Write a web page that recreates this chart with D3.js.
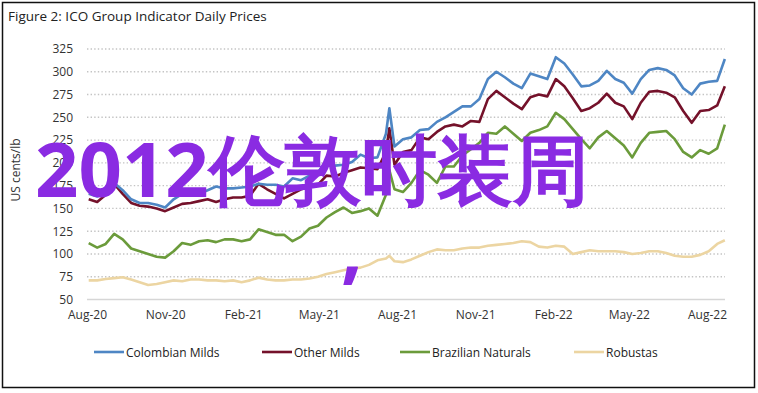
<!DOCTYPE html>
<html><head><meta charset="utf-8">
<script src="https://cdn.jsdelivr.net/npm/d3@7/dist/d3.min.js"></script>
<style>
html,body{margin:0;padding:0;background:#fff;}
svg{display:block;}
text{font-family:"Open Sans","Noto Sans",sans-serif;}
</style></head>
<body>
<svg id="chart" width="758" height="393"></svg>
<script>
const dates = ["2020-08-03","2020-08-13","2020-08-23","2020-09-02","2020-09-12","2020-09-22","2020-10-02","2020-10-12","2020-10-22","2020-11-01",
"2020-11-11","2020-11-21","2020-12-01","2020-12-11","2020-12-21","2020-12-31","2021-01-10","2021-01-20","2021-01-30","2021-02-09",
"2021-02-19","2021-03-01","2021-03-11","2021-03-21","2021-03-31","2021-04-10","2021-04-20","2021-04-30","2021-05-10","2021-05-20",
"2021-05-30","2021-06-09","2021-06-19","2021-06-29","2021-07-09","2021-07-19","2021-07-23","2021-07-29","2021-08-08","2021-08-18","2021-08-28",
"2021-09-07","2021-09-17","2021-09-27","2021-10-07","2021-10-17","2021-10-27","2021-11-06","2021-11-16","2021-11-26","2021-12-06",
"2021-12-16","2021-12-26","2022-01-05","2022-01-15","2022-01-25","2022-02-04","2022-02-14","2022-02-24","2022-03-06","2022-03-16",
"2022-03-26","2022-04-05","2022-04-15","2022-04-25","2022-05-05","2022-05-15","2022-05-25","2022-06-04","2022-06-14","2022-06-24",
"2022-07-04","2022-07-14","2022-07-24","2022-08-03","2022-08-13","2022-08-22"];

const colombianMilds = [166,163,168,178,170,160,156,156,154,151,
160,166,164,166,170,174,172,172,173,174,
177,176,176,174,183,181,186,190,202,197,
198,201,209,205,206,232,260,218,226,228,236,
237,245,250,256,262,262,270,292,300,294,
287,282,298,295,292,316,309,297,284,285,
290,301,292,288,276,292,302,304,302,296,
282,275,287,289,290,314];

const otherMilds = [160,157,165,177,166,156,153,152,150,147,
151,155,156,158,160,157,160,162,162,164,
177,171,166,161,166,171,173,176,186,185,
189,192,195,194,193,212,238,198,212,214,228,
226,234,240,242,240,246,245,270,279,272,
265,259,272,275,273,292,284,271,257,260,
266,276,266,262,248,266,278,279,277,272,
257,244,257,258,263,284];

const brazilianNaturals = [112,107,111,122,116,106,103,100,97,96,
103,112,110,114,115,113,116,116,114,116,
127,124,121,121,114,119,128,131,140,146,
151,145,147,150,142,165,192,171,168,178,192,
187,178,196,196,208,215,222,233,232,240,
232,224,233,236,240,255,248,237,226,216,
228,235,227,219,206,222,233,234,235,226,
212,206,214,210,216,242];

const robustas = [71,71,72.5,73.5,74.5,72,69,66,67,69,
71,70,72,72,71,71,70,71,69,71,
74,72,71,71,72,72,73,75,78,80,
82,84,85,88,93,95,98,92,91,94,98,
102,105,104,104,106,107,107,109,110,111,
112,114,113,108,107,109,108,100,102,104,
103,103,103,102,100,101,103,103,101,98,
97,97,99,103,111,115];

const seriesNames = ["Colombian Milds","Other Milds","Brazilian Naturals","Robustas"];
const seriesColors = ["#4e86c4","#74112a","#6b9b3b","#ecd5a2"];
const yTicks = [50,75,100,125,150,175,200,225,250,275,300,325];
const xTickDates = ["2020-08-01","2020-11-01","2021-02-01","2021-05-01","2021-08-01","2021-11-01","2022-02-01","2022-05-01","2022-08-01"];
const xTickLabels = ["Aug-20","Nov-20","Feb-21","May-21","Aug-21","Nov-21","Feb-22","May-22","Aug-22"];
const titleText = "Figure 2: ICO Group Indicator Daily Prices";
const yAxisTitle = "US cents/lb";
const overlayText = "2012伦敦时装周";

const parse = d3.timeParse("%Y-%m-%d");
const svg = d3.select("#chart");

const x = d3.scaleTime().domain([parse("2020-08-01"), parse("2022-08-01")]).range([87, 707]);
const y = d3.scaleLinear().domain([50, 325]).range([299.5, 49]);

// frame
svg.append("rect").attr("x",2.5).attr("y",2.5).attr("width",752).attr("height",385)
  .attr("fill","#fff").attr("stroke","#111").attr("stroke-width",1.5);

// title
svg.append("text").attr("x",8).attr("y",21).attr("font-size",13.5).attr("fill","#222").text(titleText);

// gridlines
svg.append("g").selectAll("line").data(yTicks.filter(d=>d>50)).join("line")
  .attr("x1",87).attr("x2",725).attr("y1",d=>y(d)).attr("y2",d=>y(d))
  .attr("stroke","#c4c4c4").attr("stroke-width",1.4).attr("stroke-dasharray","1.4,2.2");
svg.append("line").attr("x1",87).attr("x2",725).attr("y1",y(50)).attr("y2",y(50))
  .attr("stroke","#d6d6d6").attr("stroke-width",1.5);

// y axis
const yAxis = d3.axisLeft(y).tickValues(yTicks).tickSize(0).tickPadding(0);
const gy = svg.append("g").attr("transform","translate(73,0)").call(yAxis);
gy.select(".domain").remove();
gy.selectAll("text").attr("font-family","Open Sans, sans-serif").attr("font-size",12).attr("fill","#333");

// x axis
const xAxis = d3.axisBottom(x).tickValues(xTickDates.map(parse)).tickSize(0).tickPadding(0)
  .tickFormat((d,i)=>xTickLabels[i]);
const gx = svg.append("g").attr("transform","translate(0,310)").call(xAxis);
gx.select(".domain").remove();
gx.selectAll("text").attr("font-family","Open Sans, sans-serif").attr("font-size",12).attr("fill","#333");

// y title
svg.append("text").attr("transform","translate(20,170) rotate(-90)").attr("text-anchor","middle")
  .attr("font-size",12).attr("fill","#333").text(yAxisTitle);

// lines
const allSeries = [colombianMilds, otherMilds, brazilianNaturals, robustas];
const line = d3.line().x((d,i)=>x(parse(dates[i]))).y(d=>y(d));
const drawOrder = [3,2,1,0];
drawOrder.forEach(k=>{
  svg.append("path").datum(allSeries[k]).attr("d",line).attr("fill","none")
    .attr("stroke",seriesColors[k]).attr("stroke-width",2.6).attr("stroke-linejoin","round");
});

// legend
const legendX = [94, 262, 400, 574];
const lg = svg.append("g");
seriesNames.forEach((n,i)=>{
  lg.append("line").attr("x1",legendX[i]).attr("x2",legendX[i]+30).attr("y1",352).attr("y2",352)
    .attr("stroke",seriesColors[i]).attr("stroke-width",2.6);
  lg.append("text").attr("x",legendX[i]+32).attr("y",356.5).attr("font-size",12).attr("fill","#222").text(n);
});

// overlay watermark text
svg.append("text").attr("x",35).attr("y",197).attr("font-family","Noto Sans CJK SC, sans-serif")
  .attr("font-weight","bold").attr("font-size",76).attr("fill","#8a2be2").text(overlayText);
svg.append("text").attr("x",341).attr("y",275).attr("font-family","Noto Sans CJK SC, sans-serif")
  .attr("font-weight","bold").attr("font-size",76).attr("fill","#8a2be2").text(",");
</script>
</body></html>
